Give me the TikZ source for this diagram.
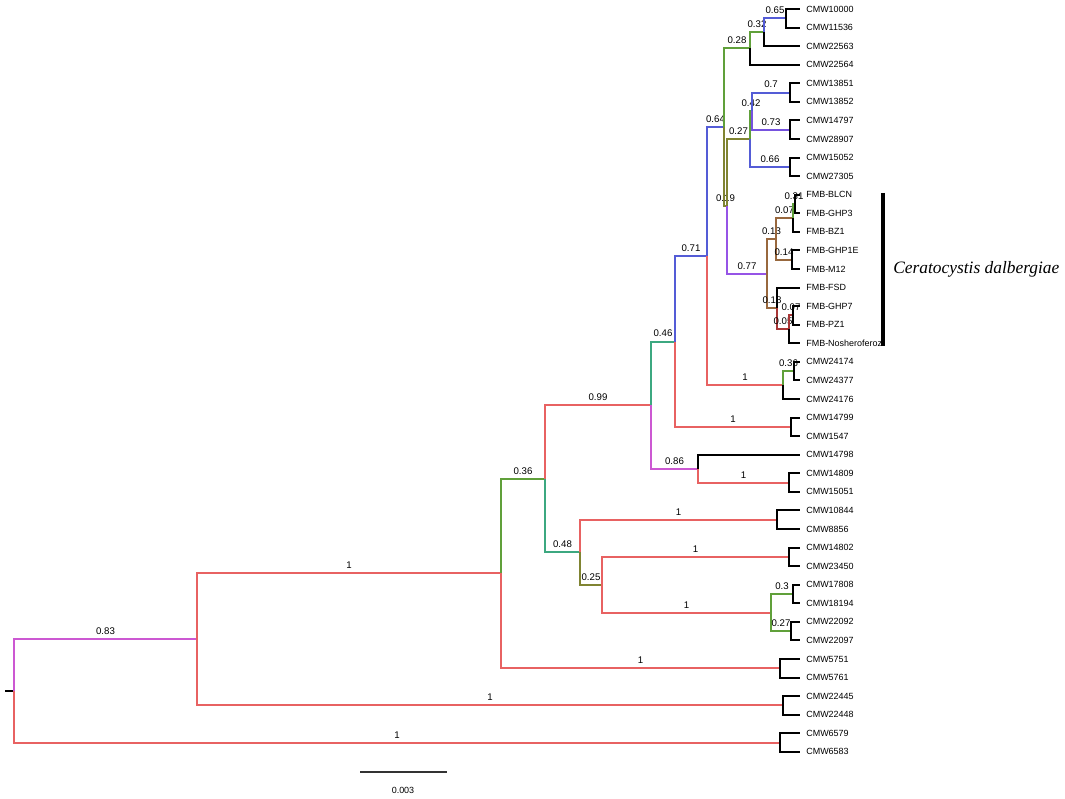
\documentclass[tikz,border=0pt]{standalone}
\usepackage{fontspec}
\setmainfont{Liberation Sans}
\newfontfamily\speciesfont{Liberation Serif}
\definecolor{clred}{RGB}{232,98,98}
\definecolor{clgreen}{RGB}{96,160,58}
\definecolor{clteal}{RGB}{60,168,128}
\definecolor{clblue}{RGB}{84,92,214}
\definecolor{clviolet}{RGB}{118,82,222}
\definecolor{clpurple}{RGB}{150,84,230}
\definecolor{clmagenta}{RGB}{204,88,210}
\definecolor{clolive}{RGB}{128,132,50}
\definecolor{clbrown}{RGB}{152,104,62}
\definecolor{cldark}{RGB}{168,54,54}
\begin{document}
\begin{tikzpicture}
[x=0.02cm, y=-0.3715cm,
  branch/.style={line width=1.15pt},%
  tip/.style={line width=1.15pt,black},%
  leaf/.style={anchor=west,inner xsep=3.4pt,inner ysep=0pt,font=\fontsize{5.1}{6}\selectfont},%
  support/.style={above,pos=0.75,inner sep=2pt,font=\fontsize{5.5}{6.5}\selectfont}]
\useasboundingbox (0,0.5155) rectangle (1065,43.53);
%% tips (x in pixels, y in leaf rows)
\foreach \leafname/\i in {
  CMW10000/1, CMW11536/2, CMW22563/3, CMW22564/4,
  CMW13851/5, CMW13852/6, CMW14797/7, CMW28907/8, CMW15052/9, CMW27305/10,
  FMB-BLCN/11, FMB-GHP3/12, FMB-BZ1/13, FMB-GHP1E/14, FMB-M12/15,
  FMB-FSD/16, FMB-GHP7/17, FMB-PZ1/18, FMB-Nosheroferoz/19,
  CMW24174/20, CMW24377/21, CMW24176/22, CMW14799/23, CMW1547/24,
  CMW14798/25, CMW14809/26, CMW15051/27, CMW10844/28, CMW8856/29,
  CMW14802/30, CMW23450/31, CMW17808/32, CMW18194/33, CMW22092/34,
  CMW22097/35, CMW5751/36, CMW5761/37, CMW22445/38, CMW22448/39,
  CMW6579/40, CMW6583/41} {
  \node[leaf] (\leafname) at (800,\i) {\leafname};
}
%% internal nodes
\foreach \nodename/\x/\y in {
  %% top clade
  n065/786/1.5, n032/764/2.25, n028/750/3.125,
  n07/790/5.5, n073/790/7.5, n042/752/6.5, n066/790/9.5, n027/750/8,
  %% Ceratocystis dalbergiae
  n031/795/11.5, n007a/793/12.25, n014/792/14.5, n013/776/13.375,
  n007b/793/17.5, n005/789/18.25, n018/777/17.125, n077/767/15.25,
  n019/727/11.625, n064/724/7.375,
  %% middle
  n036b/794/20.5, n1b/783/21.25, n071/707/14.3125, c14799/791/23.5,
  n046/675/18.906, c14809/789/26.5, n086/698/25.75, n099/651/22.328,
  %% lower
  c10844/777/28.5, c14802/789/30.5, n03/793/32.5, n027b/791/34.5,
  n1c/771/33.5, n025/602/32, n048/580/30.25, n036/545/26.289,
  c5751/780/36.5, n1a/501/31.395, c22445/783/38.5, n083/197/34.947,
  c6579/780/40.5, root/14/37.724} {
  \coordinate (\nodename) at (\x,\y);
}
\coordinate (stub) at (5,37.724);
\draw[tip] (stub) -- (root);
%% branches with support values
\foreach \startnode/\endnode/\clr/\val in {
  root/n083/clmagenta/0.83, root/c6579/clred/1,
  n083/n1a/clred/1, n083/c22445/clred/1,
  n1a/n036/clgreen/0.36, n1a/c5751/clred/1,
  n036/n099/clred/0.99, n036/n048/clteal/0.48,
  n048/c10844/clred/1, n048/n025/clolive/0.25,
  n025/c14802/clred/1, n025/n1c/clred/1,
  n1c/n03/clgreen/0.3, n1c/n027b/clgreen/0.27,
  n099/n046/clteal/0.46, n099/n086/clmagenta/0.86,
  n086/c14809/clred/1,
  n046/n071/clblue/0.71, n046/c14799/clred/1,
  n071/n064/clblue/0.64, n071/n1b/clred/1,
  n1b/n036b/clgreen/0.36,
  n064/n028/clgreen/0.28, n064/n019/clolive/0.19,
  n028/n032/clgreen/0.32, n032/n065/clblue/0.65,
  n019/n027/clolive/0.27, n019/n077/clpurple/0.77,
  n027/n042/clgreen/0.42, n027/n066/clblue/0.66,
  n042/n07/clblue/0.7, n042/n073/clviolet/0.73,
  n077/n013/clbrown/0.13, n077/n018/clbrown/0.18,
  n013/n007a/clbrown/0.07, n013/n014/clbrown/0.14,
  n007a/n031/clgreen/0.31,
  n018/n005/cldark/0.05, n005/n007b/cldark/0.07} {
  \draw[branch,\clr] (\startnode) |- node[support,text=black] {\val} (\endnode);
}
%% terminal branches
\foreach \startnode/\endnode in {
  n065/CMW10000, n065/CMW11536, n032/CMW22563, n028/CMW22564,
  n07/CMW13851, n07/CMW13852, n073/CMW14797, n073/CMW28907,
  n066/CMW15052, n066/CMW27305,
  n031/FMB-BLCN, n031/FMB-GHP3, n007a/FMB-BZ1, n014/FMB-GHP1E, n014/FMB-M12,
  n018/FMB-FSD, n007b/FMB-GHP7, n007b/FMB-PZ1, n005/FMB-Nosheroferoz,
  n036b/CMW24174, n036b/CMW24377, n1b/CMW24176,
  c14799/CMW14799, c14799/CMW1547, n086/CMW14798,
  c14809/CMW14809, c14809/CMW15051, c10844/CMW10844, c10844/CMW8856,
  c14802/CMW14802, c14802/CMW23450, n03/CMW17808, n03/CMW18194,
  n027b/CMW22092, n027b/CMW22097, c5751/CMW5751, c5751/CMW5761,
  c22445/CMW22445, c22445/CMW22448, c6579/CMW6579, c6579/CMW6583} {
  \draw[tip] (\startnode) |- (\endnode.west);
}
%% species bar
\coordinate (bartop) at (883,10.905);
\coordinate (barbot) at (883,19.143);
\draw[line width=2.3pt] (bartop) -- (barbot);
\node[anchor=west,inner sep=0pt,font=\speciesfont\itshape\fontsize{9.9}{12}\selectfont]
  (species) at (893,15) {Ceratocystis dalbergiae};
%% scale bar
\coordinate (scaleleft) at (360,42.077);
\coordinate (scaleright) at (447,42.077);
\draw[line width=0.8pt,black!80] (scaleleft) -- (scaleright);
\node[font=\fontsize{5.1}{6}\selectfont] (scalelabel) at (403,43.1) {0.003};
\end{tikzpicture}
\end{document}
